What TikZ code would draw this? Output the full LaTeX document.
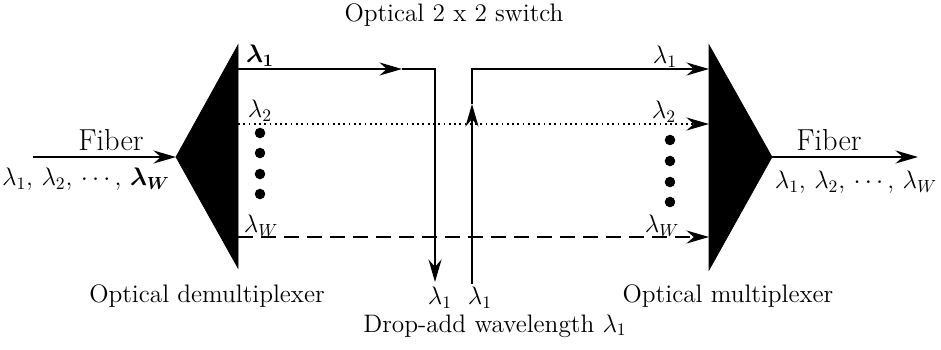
\documentclass[tikz,border=0pt]{standalone}
\usepackage{bm}
\usepackage{tikz}
\usetikzlibrary{arrows.meta,positioning}

\begin{document}
\begin{tikzpicture}[x=0.02cm,y=-0.02cm,
  fiber/.style={line width=1pt, -{Stealth[length=4.5mm,width=2.6mm]}},
  chan/.style={line width=1pt},
  tip/.style={-{Stealth[length=4.5mm,width=2.6mm]}},
  prism/.style={fill=black, draw=black},
  lbl/.style={font=\Large, inner sep=1pt},
  caption/.style={font=\Large, inner sep=1pt},
  dot/.style={circle, fill=black, inner sep=0pt, minimum size=6pt}
]
  \useasboundingbox (0,0) rectangle (941,349);

  % demultiplexer and multiplexer
  \coordinate (demuxin) at (176,157);
  \coordinate (muxout) at (772,157);
  \fill[prism] (demuxin) -- (238,45) -- (238,268) -- cycle;
  \fill[prism] (muxout) -- (709,45) -- (709,270) -- cycle;

  % fiber in / out
  \coordinate (fibin) at (33,157);
  \coordinate (fibout) at (918,157);
  \draw[fiber] (fibin) -- (demuxin);
  \draw[fiber] (muxout) -- (fibout);
  \node[font=\LARGE] (fiberl) at (111,140) {Fiber};
  \node[font=\LARGE] (fiberr) at (829,140) {Fiber};
  \node[lbl] (listl) at (86,179) {$\lambda_1,\,\lambda_2,\,\cdots,\,\bm{\lambda_W}$};
  \node[lbl] (listr) at (856,182) {$\lambda_1,\,\lambda_2,\,\cdots,\,\lambda_W$};

  % channel ends
  \coordinate (d1) at (238,69);
  \coordinate (d2) at (238,124);
  \coordinate (dw) at (238,237);
  \coordinate (m1) at (709,69);
  \coordinate (m2) at (709,124);
  \coordinate (mw) at (709,237);

  % drop and add
  \coordinate (mid1) at (402,69);
  \coordinate (dropc) at (435,69);
  \coordinate (drop) at (435,282);
  \coordinate (add) at (472,284);
  \coordinate (addmid) at (472,104);
  \coordinate (addc) at (472,69);
  \draw[chan,tip] (d1) -- (mid1);
  \draw[chan,tip] (mid1) -- (dropc) -- (drop);
  \draw[chan,tip] (add) -- (addmid);
  \draw[chan,tip] (addmid) -- (addc) -- (m1);

  \draw[chan,dotted,tip] (d2) -- (m2);
  \draw[chan,dash pattern=on 3mm off 1.6mm,tip] (dw) -- (mw);

  \node[dot] (ld1) at (260,133) {};
  \node[dot] (ld2) at (260,153) {};
  \node[dot] (ld3) at (260,174) {};
  \node[dot] (ld4) at (260,194) {};
  \node[dot] (rd1) at (670,140) {};
  \node[dot] (rd2) at (670,161) {};
  \node[dot] (rd3) at (670,182) {};
  \node[dot] (rd4) at (670,202) {};

  % channel labels
  \node[lbl] (l1) at (260,56) {$\bm{\lambda_1}$};
  \node[lbl] (l2) at (260,111) {$\lambda_2$};
  \node[lbl] (lw) at (261,226) {$\lambda_W$};
  \node[lbl] (r1) at (665,57) {$\lambda_1$};
  \node[lbl] (r2) at (664,112) {$\lambda_2$};
  \node[lbl] (rw) at (662,226) {$\lambda_W$};
  \node[lbl] (dropl) at (440,298) {$\lambda_1$};
  \node[lbl] (addl) at (480,298) {$\lambda_1$};

  % captions
  \node[caption] (switch) at (454,15) {Optical 2 x 2 switch};
  \node[caption] (demux) at (207,296) {Optical demultiplexer};
  \node[caption] (mux) at (728,296) {Optical multiplexer};
  \node[caption] (dropadd) at (495,326) {Drop-add wavelength $\lambda_1$};
\end{tikzpicture}
\end{document}
